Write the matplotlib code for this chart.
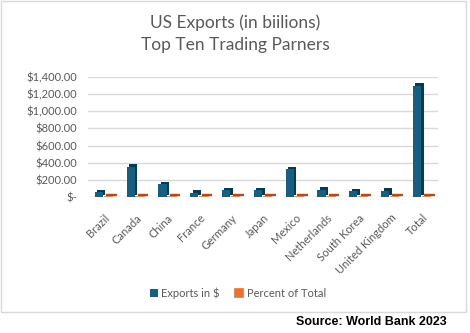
import matplotlib.pyplot as plt
import matplotlib.transforms as mtransforms
from matplotlib.patches import Rectangle
import numpy as np

countries = ["Brazil", "Canada", "China", "France", "Germany", "Japan", "Mexico",
             "Netherlands", "South Korea", "United Kingdom", "Total"]
exports = [53, 354, 148, 47, 77, 76, 323, 83, 65, 74, 1300]
percent = [0.04, 0.27, 0.11, 0.04, 0.06, 0.06, 0.25, 0.06, 0.05, 0.06, 1.0]
yticks = [0, 200, 400, 600, 800, 1000, 1200, 1400]

blue = "#156082"
blue_dark = "#0B3A50"
orange = "#E97132"
orange_dark = "#A84E1F"
gray = "#595959"

plt.rcParams['font.family'] = ['Lato', 'DejaVu Sans']

fig = plt.figure(figsize=(4.7, 3.33), dpi=100)
ax = fig.add_axes([88/470, 1 - 197/333, 350/470, 120/333])

# chart frame
fig.patches.append(Rectangle((1/470, 1 - 312/333), 465/470, 311/333, transform=fig.transFigure,
                             fill=False, edgecolor="#D9D9D9", linewidth=1))

x = np.arange(len(countries))
# fake 3D depth: darker copy shifted up/right
shift = mtransforms.ScaledTranslation(2.5/100, 2.5/100, fig.dpi_scale_trans)
ax.bar(x - 0.16, exports, width=0.26, color=blue_dark, transform=ax.transData + shift, zorder=2)
ax.bar(x - 0.16, exports, width=0.26, color=blue, zorder=3, label="Exports in $")
ax.bar(x + 0.14, percent, width=0.3, color=orange_dark, transform=ax.transData + shift, zorder=2,
       edgecolor=orange_dark, linewidth=1)
ax.bar(x + 0.14, percent, width=0.3, color=orange, edgecolor=orange, linewidth=1.2, zorder=3,
       label="Percent of Total")

ax.set_xlim(-0.5, len(countries) - 0.5)
ax.set_ylim(0, 1400)
ax.set_yticks(yticks)
ax.set_yticklabels(["$-"] + ["${:,.2f}".format(v) for v in yticks[1:]], color=gray, fontsize=8)
ax.set_xticks(x)
ax.set_xticklabels(countries, rotation=45, ha="right", rotation_mode="anchor", color=gray, fontsize=8)
ax.tick_params(axis="y", length=0, pad=8)
ax.tick_params(axis="x", length=0, pad=11)
ax.grid(axis="y", color="#D9D9D9", linewidth=1)
ax.set_axisbelow(True)
for s in ax.spines.values():
    s.set_visible(False)

fig.text(0.5, 1 - 23/333, "US Exports (in biilions)", ha="center", va="center", fontsize=12.5, color=gray)
fig.text(0.5, 1 - 45/333, "Top Ten Trading Parners", ha="center", va="center", fontsize=12.5, color=gray)

ax.legend(loc="center", bbox_to_anchor=(238/470, 1 - 293/333), bbox_transform=fig.transFigure,
          ncol=2, frameon=False, fontsize=8, handlelength=0.7, handleheight=0.7,
          handletextpad=0.3, columnspacing=1.4, labelcolor=gray)

fig.text(447/470, 1 - 322/333, "Source: World Bank 2023", ha="right", va="center",
         fontsize=9, fontweight="bold", family=["Liberation Sans", "DejaVu Sans"], color="black")

plt.savefig("out.png", dpi=100)
